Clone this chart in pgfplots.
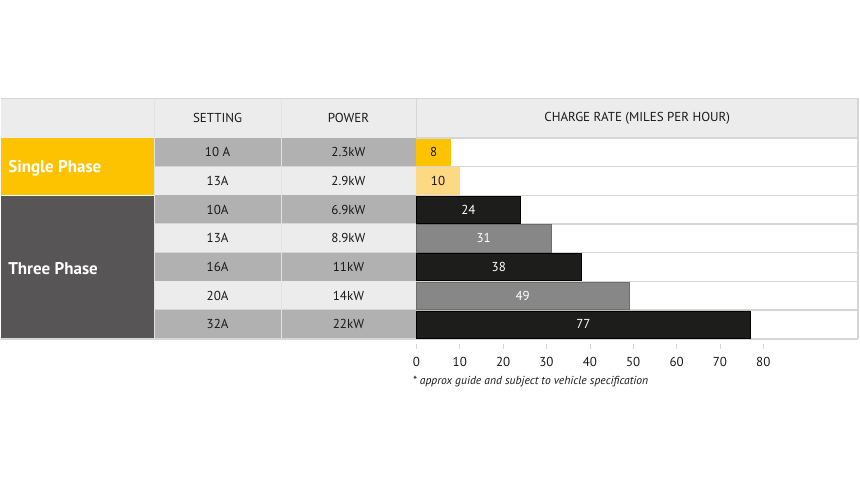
\documentclass[border=0pt]{standalone}
\usepackage{fontspec}
\setmainfont{PT Sans}
\usepackage{pgfplots}
\pgfplotsset{compat=1.18}
\usepackage{pgfplotstable}
\definecolor{ylw}{HTML}{FDC300}
\definecolor{lylw}{HTML}{FDD983}
\definecolor{blk}{HTML}{1D1D1B}
\definecolor{gry}{HTML}{878787}
\definecolor{dcell}{HTML}{B2B1B1}
\definecolor{lcell}{HTML}{ECECEC}
\definecolor{tp}{HTML}{575556}
\definecolor{sep}{HTML}{D6D6D6}
\definecolor{txt}{HTML}{1A1A1A}

% charge rate (miles per hour); y = row index counted from the bottom row
\pgfplotstableread{
v  y  lab
8  6  8
10 5  10
}\darklabels
\pgfplotstableread{
v  y  lab
24 4  24
31 3  31
38 2  38
49 1  49
77 0  77
}\whitelabels

\begin{document}
\begin{tikzpicture}[x=1pt,y=-1pt]
\fill[white] (0,0) rectangle (860,483);
% header row
\fill[lcell] (0,98) rectangle (858,138);
\draw[sep,line width=1.5pt] (0,98.75) -- (858,98.75);
% phase cells
\fill[ylw] (0,138) rectangle (154,195.43);
\fill[tp] (0,195.43) rectangle (154,339);
\draw[white,line width=0.8pt] (0,195.43) -- (154,195.43);
% rows
\foreach \k/\c in {0/dcell,1/lcell,2/dcell,3/lcell,4/dcell,5/lcell,6/dcell} {
  \fill[\c] (154,{138+28.71*\k}) rectangle (416,{138+28.71*(\k+1)});
  \draw[sep,line width=1.4pt] (154,{138+28.71*(\k+1)}) -- (858,{138+28.71*(\k+1)});
}
\draw[sep,line width=1.4pt] (416,138) -- (858,138);
\draw[sep,line width=1.5pt] (0,339.5) -- (858,339.5);
% vertical separators
\draw[sep!70,line width=0.8pt] (154,98) -- (154,339);
\draw[sep!70,line width=0.8pt] (281,98) -- (281,339);
\draw[sep,line width=1pt] (416,98) -- (416,339);
\draw[sep,line width=1.5pt] (858,98) -- (858,339);
% header texts
\begin{scope}[every node/.style={font=\fontsize{13}{15}\selectfont, text=txt}]
\node at (217,118.5) {SETTING};
\node at (348,118.5) {POWER};
\node at (637,118.5) {CHARGE RATE (MILES PER HOUR)};
\foreach \k/\s/\p in {0/10 A/2.3kW,1/13A/2.9kW,2/10A/6.9kW,3/13A/8.9kW,4/16A/11kW,5/20A/14kW,6/32A/22kW} {
  \node at (217,{152.35+28.71*\k}) {\s};
  \node at (348,{152.35+28.71*\k}) {\p};
}
\end{scope}
\node[anchor=west, text=white, font=\fontsize{17}{20}\selectfont\bfseries] at (4,168) {Single Phase};
\node[anchor=west, text=white, font=\fontsize{17}{20}\selectfont\bfseries] at (4,269) {Three Phase};
\node[anchor=west, text=txt, font=\fontsize{11.6}{14}\selectfont\itshape] at (409,382) {* approx guide and subject to vehicle specification};

\begin{axis}[
  at={(0pt,-344pt)}, anchor=south west,
  scale only axis, width=860pt, height=344pt,
  xmin=-95.85, xmax=102.3, ymin=-0.674, ymax=11.308,
  clip=false,
  hide y axis,
  axis x line*=bottom,
  axis line style={draw=none},
  xtick={0,10,...,80},
  tick align=outside,
  major tick length=5pt,
  tick style={draw=sep, line width=0.7pt},
  xticklabel style={font=\fontsize{13}{15}\selectfont, text=txt, yshift=-5pt},
  /pgf/number format/assume math mode=true,
  every node near coord/.append style={anchor=center, font=\fontsize{13}{15}\selectfont},
]
\addplot[xbar, bar shift=0pt, bar width=0.95, fill=ylw, draw=none] coordinates {(8,6)};
\addplot[xbar, bar shift=0pt, bar width=0.95, fill=lylw, draw=none] coordinates {(10,5)};
\addplot[xbar, bar shift=0pt, bar width=0.95, fill=blk, draw=black] coordinates {(24,4) (38,2) (77,0)};
\addplot[xbar, bar shift=0pt, bar width=0.95, fill=gry, draw=gry!80!black] coordinates {(31,3) (49,1)};
\addplot[draw=none, mark=none, nodes near coords, point meta=explicit symbolic,
  every node near coord/.append style={text=txt}]
  table[x expr=\thisrow{v}/2, y=y, meta=lab] {\darklabels};
\addplot[draw=none, mark=none, nodes near coords, point meta=explicit symbolic,
  every node near coord/.append style={text=white}]
  table[x expr=\thisrow{v}/2, y=y, meta=lab] {\whitelabels};
\end{axis}
\end{tikzpicture}
\end{document}
